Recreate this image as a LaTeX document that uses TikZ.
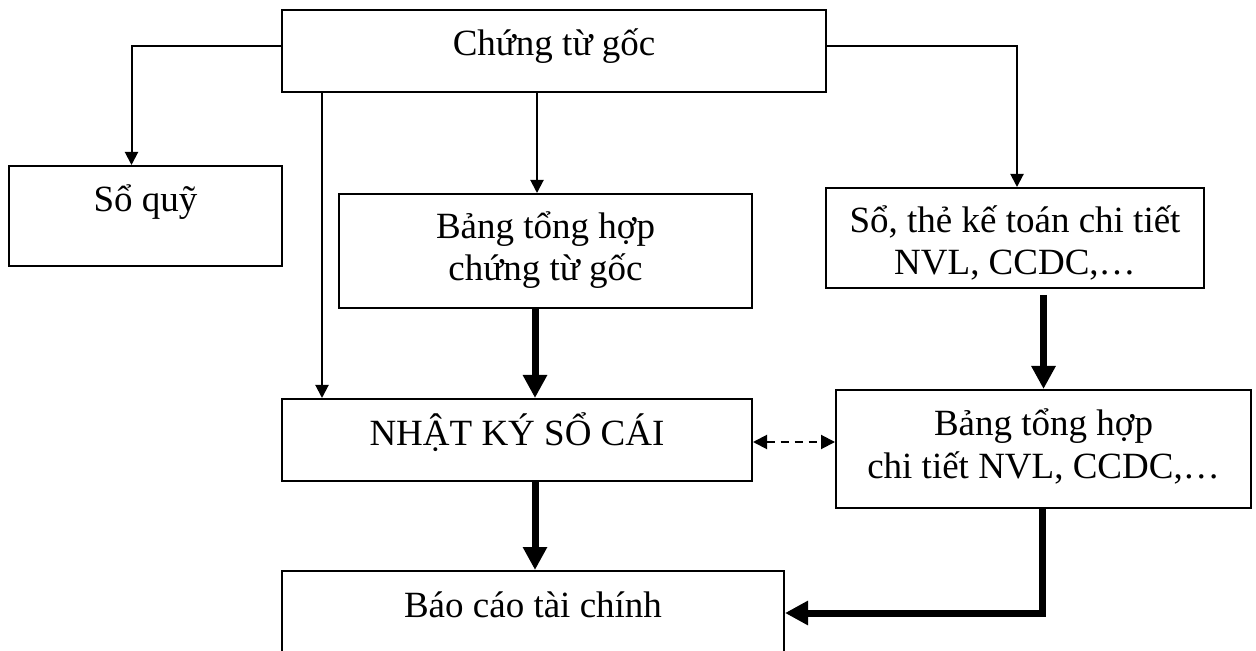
\documentclass[tikz,border=0pt]{standalone}
\usepackage{fontspec}
\setmainfont{Liberation Serif}
\usetikzlibrary{arrows.meta}
\begin{document}
\begin{tikzpicture}[
    x=0.5pt, y=-0.5pt,
    box/.style={rectangle, draw, line width=1pt, anchor=north, align=center, inner sep=0pt, text height=23pt, font=\fontsize{18.5}{21}\selectfont},
    arrow/.style={-{Triangle[length=6.5pt,width=6.5pt]}, line width=1pt},
    thickarrow/.style={-{Triangle[length=11.5pt,width=11.5pt]}, line width=3.5pt},
    dasharrow/.style={{Triangle[length=7pt,width=7pt]}-{Triangle[length=7pt,width=7pt]}, line width=1pt, dash pattern=on 4pt off 3pt}
]
\useasboundingbox (0,0) rectangle (1256,651);
\node[box, minimum width=272pt, text depth=18pt] (goc) at (554,9) {Chứng từ gốc};
\node[box, minimum width=136.5pt, text depth=27pt] (quy) at (145.5,165) {Sổ quỹ};
\node[box, minimum width=206.5pt, text height=43.5pt, text depth=13.5pt] (bangth) at (545.5,193) {Bảng tổng hợp\\chứng từ gốc};
\node[box, minimum width=189pt, text height=43.5pt, text depth=6.5pt] (sothe) at (1015,187) {Sổ, thẻ kế toán chi tiết\\NVL, CCDC,…};
\node[box, minimum width=235pt, text depth=18pt] (nhatky) at (517,398) {NHẬT KÝ SỔ CÁI};
\node[box, minimum width=207.5pt, text height=44pt, text depth=15pt] (bangct) at (1043.5,389) {Bảng tổng hợp\\chi tiết NVL, CCDC,…};
\node[box, minimum width=251pt, text depth=45pt] (baocao) at (533,570) {Báo cáo tài chính};
\coordinate (bend) at (1042,613);

\draw[arrow] ([yshift=2.5pt]goc.west) -| ([xshift=-7pt]quy.north);
\draw[arrow] ([yshift=2.5pt]goc.east) -| ([xshift=1pt]sothe.north);
\draw[arrow] ([xshift=-97.5pt]nhatky.north |- goc.south) -- ([xshift=-97.5pt]nhatky.north);
\draw[arrow] ([xshift=-4.25pt]bangth.north |- goc.south) -- ([xshift=-4.25pt]bangth.north);
\draw[thickarrow] ([xshift=9pt]nhatky.north |- bangth.south) -- ([xshift=9pt]nhatky.north);
\draw[thickarrow] ([yshift=-3pt]bangct.north |- sothe.south) -- (bangct.north);
\draw[dasharrow] ([yshift=-1pt]nhatky.east) -- ([yshift=-1pt]nhatky.east -| bangct.west);
\draw[thickarrow] ([xshift=9pt]nhatky.south) -- ([xshift=9pt]nhatky.south |- baocao.north);
\draw[thickarrow] (bangct.south -| bend) -- (bend) -- (baocao.east |- bend);
\end{tikzpicture}
\end{document}
